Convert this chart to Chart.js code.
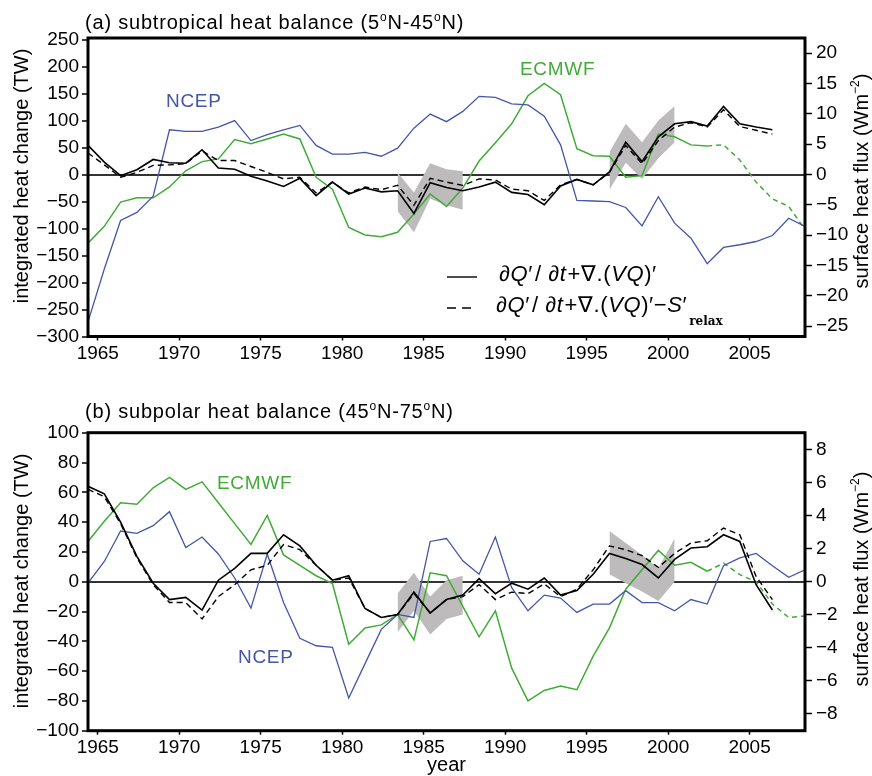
<!DOCTYPE html>
<html>
<head>
<meta charset="utf-8">
<script src="https://cdn.jsdelivr.net/npm/chart.js@4.4.0/dist/chart.umd.min.js"></script>
<style>
html, body { margin: 0; padding: 0; background: #fff; }
#chartA { position: absolute; left: 0; top: 0; }
#chartB { position: absolute; left: 0; top: 385px; }
</style>
</head>
<body>
<canvas id="chartA" width="872" height="385"></canvas>
<canvas id="chartB" width="872" height="391"></canvas>
<script>
var years = [1964, 1965, 1966, 1967, 1968, 1969, 1970, 1971, 1972, 1973,
             1974, 1975, 1976, 1977, 1978, 1979, 1980, 1981, 1982, 1983,
             1984, 1985, 1986, 1987, 1988, 1989, 1990, 1991, 1992, 1993,
             1994, 1995, 1996, 1997, 1998, 1999, 2000, 2001, 2002, 2003,
             2004, 2005, 2006, 2007, 2008];
var yearShift = 0.4;   // annual values sit a little right of the year tick
var dashFrom = 38;     // ECMWF curve is dashed from 2002 on

// (a) subtropical, TW
var balA  = [54, 23, -2, 9, 28, 22, 21, 46, 12, 10, -3, -12, -22, -7, -39, -14, -36, -25, -32, -30,
             -72, -15, -24, -30, -23, -14, -33, -37, -56, -21, -9, -19, 5, 60, 24, 70, 94, 98, 90, 126,
             94, 88, 83, null, null];
var balSA = [40, 18, -5, 4, 17, 18, 20, 44, 26, 26, 15, 4, -8, -5, -34, -14, -34, -23, -28, -20,
             -57, -7, -14, -20, -8, -10, -27, -30, -48, -19, -9, -19, 4, 54, 20, 63, 88, 96, 88, 120,
             89, 82, 75, null, null];
var ecmA  = [-127, -96, -51, -43, -43, -23, 7, 24, 29, 65, 57, 66, 75, 66, -5, -27, -98, -112, -115, -107,
             -73, -36, -59, -25, 25, 59, 94, 146, 169, 148, 48, 35, 34, -5, -2, 75, 70, 55, 53, 55,
             27, -14, -45, -59, -102];
var ncepA = [-273, -175, -85, -70, -40, 83, 80, 80, 88, 100, 63, 74, 83, 91, 54, 38, 38, 41, 34, 49,
             86, 112, 98, 117, 145, 143, 131, 129, 108, 55, -48, -49, -50, -61, -95, -41, -90, -118, -165, -135,
             -130, -124, -113, -81, -96];
var bandTopA = [null, null, null, null, null, null, null, null, null, null, null, null, null, null, null, null, null, null, null, 4,
                -33, 21, 10, 6, null, null, null, null, null, null, null, null, 42, 94, 60, 100, 127, null, null, null,
                null, null, null, null, null];
var bandBotA = [null, null, null, null, null, null, null, null, null, null, null, null, null, null, null, null, null, null, null, -68,
                -107, -45, -57, -65, null, null, null, null, null, null, null, null, -28, 22, -8, 30, 60, null, null, null,
                null, null, null, null, null];

// (b) subpolar, TW
var balB  = [64, 59, 40, 17, -1, -12, -10.5, -19, 1, 9, 19, 19, 31.5, 24, 11, 1, 4, -18, -24, -22,
             -7, -21, -12, -9, 2, -8, -1, -5, 2.5, -9, -6, 5, 19, 15.5, 11.5, 2.5, 15, 22.6, 23.5, 31.5,
             27, -2, -19, null, null];
var balSB = [62, 57, 39, 16, -2, -14, -14, -25, -10, -2, 8, 11, 25, 21.5, 11, 1, 2.5, -18, -24, -22,
             -8, -21, -12, -10, -2, -12, -7, -8, -1.5, -10, -5, 8, 24, 21.5, 17.5, 9.6, 19, 26, 27.5, 36,
             31.5, 3.5, -12, null, null];
var ecmB  = [27, 40.5, 53, 52, 63, 70, 62, 67, 53, 39, 25, 44.5, 18, 11, 4, -1.3, -42, -31, -29, -22,
             -39, 6, 4, -16.5, -37, -19.5, -58, -80, -73, -70, -72.5, -50, -31, -5, 8, 21, 11, 13, 7, 12.5,
             4.7, 0, -15, -24, -23];
var ncepB = [-1, 13.6, 34, 32.5, 37.6, 47, 23, 30, 18.6, 2.5, -17.7, 18.6, -14, -38, -43, -44, -78, -55, -32, -22,
             -24, 27, 29, 14, 5, 30, -4, -19.5, -9, -11, -20.6, -15, -15, -6, -14, -14, -19.5, -12, -15, 10.7,
             16, 19, 10.7, 3, 8];
var bandTopB = [null, null, null, null, null, null, null, null, null, null, null, null, null, null, null, null, null, null, null, -8,
                6, -10, 1, 4, null, null, null, null, null, null, null, null, 34, 26, 18, 9, 29, null, null, null,
                null, null, null, null, null];
var bandBotB = [null, null, null, null, null, null, null, null, null, null, null, null, null, null, null, null, null, null, null, -34,
                -19.5, -35.5, -25, -22, null, null, null, null, null, null, null, null, 5, -1, -6.5, -13, 0, null, null, null,
                null, null, null, null, null];

var yearTicks   = [1965, 1970, 1975, 1980, 1985, 1990, 1995, 2000, 2005];
var leftTicksA  = [250, 200, 150, 100, 50, 0, -50, -100, -150, -200, -250, -300];
var rightTicksA = [20, 15, 10, 5, 0, -5, -10, -15, -20, -25];
var leftTicksB  = [100, 80, 60, 40, 20, 0, -20, -40, -60, -80, -100];
var rightTicksB = [8, 6, 4, 2, 0, -2, -4, -6, -8];

var FONT = "'Liberation Sans', Arial, sans-serif";
var BLUE = '#4456a8', GREEN = '#42ab37', GREY = '#bdbbbb';

function pts(arr) {
    return arr.map(function(v, i) { return { x: years[i] + yearShift, y: v }; });
}

function fmt(v) {
    return v < 0 ? '\u2212' + Math.abs(v) : String(v);
}

function makeDatasets(bal, balS, ecm, ncep, bandTop, bandBot) {
    return [
        { data: pts(bal), borderColor: '#000', borderWidth: 1.6, order: 1 },
        { data: pts(balS), borderColor: '#000', borderWidth: 1.4, borderDash: [6, 4], order: 1 },
        { data: pts(ncep), borderColor: BLUE, borderWidth: 1.3, order: 2 },
        {
            data: pts(ecm), borderColor: GREEN, borderWidth: 1.5, order: 2,
            segment: {
                borderDash: function(c) { return c.p0DataIndex >= dashFrom ? [5, 4] : undefined; }
            }
        },
        { data: pts(bandTop), borderColor: 'rgba(0,0,0,0)', borderWidth: 0, backgroundColor: GREY, fill: '+1', order: 3 },
        { data: pts(bandBot), borderColor: 'rgba(0,0,0,0)', borderWidth: 0, order: 3 }
    ];
}

function tickList(list) {
    return function(scale) {
        scale.ticks = list.map(function(v) { return { value: v }; });
    };
}

function makeScales(o) {
    var tickFont = { family: FONT, size: 19 };
    return {
        x: {
            type: 'linear',
            min: 1964 + yearShift,
            max: 2008 + yearShift,
            afterBuildTicks: tickList(yearTicks),
            afterFit: function(s) { s.height = o.xHeight; },
            border: { display: false },
            grid: { drawOnChartArea: false, tickLength: 4, tickColor: '#000', tickWidth: 1.5 },
            ticks: {
                color: '#000', font: tickFont, padding: 2, maxRotation: 0, autoSkip: false,
                callback: function(v) { return String(v); }
            }
        },
        y: {
            position: 'left',
            min: o.lmin,
            max: o.lmax,
            afterBuildTicks: tickList(o.lticks),
            afterFit: function(s) { s.width = 88; },
            border: { display: false },
            grid: {
                color: function(c) { return c.tick && c.tick.value === 0 ? '#333' : 'rgba(0,0,0,0)'; },
                lineWidth: 2, tickLength: 6, tickColor: '#000', tickWidth: 1.5
            },
            ticks: { color: '#000', font: tickFont, padding: 3, callback: fmt }
        },
        y2: {
            position: 'right',
            min: o.rmin,
            max: o.rmax,
            afterBuildTicks: tickList(o.rticks),
            afterFit: function(s) { s.width = 67; },
            border: { display: false },
            grid: { drawOnChartArea: false, tickLength: 7, tickColor: '#000', tickWidth: 1.5 },
            ticks: { color: '#000', font: tickFont, padding: 4, callback: fmt }
        }
    };
}

// draws a run of text pieces, each with its own font and vertical offset
function drawParts(ctx, x, y, parts) {
    parts.forEach(function(p) {
        ctx.font = p.f;
        ctx.fillText(p.t, x, y + (p.dy || 0));
        x += ctx.measureText(p.t).width + (p.gap || 0);
    });
    return x;
}

function partsWidth(ctx, parts) {
    var w = 0;
    parts.forEach(function(p) {
        ctx.font = p.f;
        w += ctx.measureText(p.t).width + (p.gap || 0);
    });
    return w;
}

function spacing(ctx, px) {
    if ('letterSpacing' in ctx) ctx.letterSpacing = px;
}

function rotatedParts(ctx, x, cy, parts) {
    ctx.save();
    ctx.translate(x, cy);
    ctx.rotate(-Math.PI / 2);
    ctx.textAlign = 'left';
    drawParts(ctx, -partsWidth(ctx, parts) / 2, 0, parts);
    ctx.restore();
}

function label(ctx, text, x, y, color) {
    ctx.save();
    ctx.font = '19px ' + FONT;
    ctx.fillStyle = color;
    spacing(ctx, '0.7px');
    ctx.fillText(text, x, y);
    ctx.restore();
}

var N20 = '20px ' + FONT, S12 = '12px ' + FONT;

var decoPlugin = {
    id: 'deco',
    afterDatasetsDraw: function(chart, args, o) {
        var ctx = chart.ctx, ca = chart.chartArea;
        ctx.save();
        ctx.strokeStyle = '#000';
        ctx.lineWidth = 3;
        ctx.strokeRect(ca.left, ca.top, ca.right - ca.left, ca.bottom - ca.top);

        ctx.fillStyle = '#000';
        ctx.textAlign = 'left';
        ctx.textBaseline = 'alphabetic';
        ctx.save();
        spacing(ctx, '0.8px');
        drawParts(ctx, 85, o.titleY, o.title);
        ctx.restore();

        rotatedParts(ctx, 28, o.leftCy, [{ t: 'integrated heat change (TW)', f: N20 }]);
        rotatedParts(ctx, 868, o.rightCy, [
            { t: 'surface heat flux (Wm', f: N20 },
            { t: '\u22122', f: S12, dy: -9 },
            { t: ')', f: N20 }
        ]);

        o.labels.forEach(function(l) { label(ctx, l.t, l.x, l.y, l.c); });

        if (o.legend) {
            var N = '22px ' + FONT, I = 'italic 22px ' + FONT;
            var base = [
                { t: '\u2202', f: N }, { t: 'Q', f: I }, { t: '\u2032', f: N, gap: 2 },
                { t: '/ \u2202', f: N }, { t: 't', f: I, gap: 1 }, { t: '+\u2207.(', f: N },
                { t: 'VQ', f: I }, { t: ')\u2032', f: N }
            ];
            ctx.lineWidth = 1.4;
            ctx.beginPath(); ctx.moveTo(447, 277); ctx.lineTo(477, 277); ctx.stroke();
            ctx.setLineDash([9, 6]);
            ctx.beginPath(); ctx.moveTo(447, 308); ctx.lineTo(477, 308); ctx.stroke();
            ctx.setLineDash([]);
            ctx.save();
            spacing(ctx, '0.6px');
            drawParts(ctx, 499, 281, base);
            var x = drawParts(ctx, 496, 312, base.concat([
                { t: '\u2212', f: N }, { t: 'S', f: I }, { t: '\u2032', f: N }
            ]));
            ctx.restore();
            ctx.font = "bold 12px 'DejaVu Serif', serif";
            ctx.fillText('relax', x + 2, 325);
        }
        if (o.xTitle) {
            ctx.font = N20;
            ctx.textAlign = 'center';
            ctx.fillText('year', (ca.left + ca.right) / 2, o.xTitleY);
        }
        ctx.restore();
    }
};

function makeChart(id, datasets, scales, padTop, deco) {
    return new Chart(document.getElementById(id), {
        type: 'line',
        data: { datasets: datasets },
        options: {
            responsive: false,
            animation: false,
            layout: { padding: { top: padTop, left: 0, right: 0, bottom: 0 } },
            elements: { point: { radius: 0 }, line: { tension: 0 } },
            scales: scales,
            plugins: { legend: { display: false }, tooltip: { enabled: false }, deco: deco }
        },
        plugins: [decoPlugin]
    });
}

makeChart('chartA',
    makeDatasets(balA, balSA, ecmA, ncepA, bandTopA, bandBotA),
    makeScales({ xHeight: 48.5, lmin: -300, lmax: 253, lticks: leftTicksA, rmin: -26.7, rmax: 22.5, rticks: rightTicksA }),
    38,
    {
        titleY: 29,
        title: [
            { t: '(a) subtropical heat balance (5', f: N20 }, { t: 'o', f: S12, dy: -8 },
            { t: 'N-45', f: N20 }, { t: 'o', f: S12, dy: -8 }, { t: 'N)', f: N20 }
        ],
        leftCy: 176, rightCy: 181,
        labels: [
            { t: 'NCEP', x: 166, y: 107, c: BLUE },
            { t: 'ECMWF', x: 520, y: 75, c: GREEN }
        ],
        legend: true
    });

makeChart('chartB',
    makeDatasets(balB, balSB, ecmB, ncepB, bandTopB, bandBotB),
    makeScales({ xHeight: 45.3, lmin: -100, lmax: 100, lticks: leftTicksB, rmin: -9.05, rmax: 9.05, rticks: rightTicksB }),
    47.7,
    {
        titleY: 32.5,
        title: [
            { t: '(b) subpolar heat balance (45', f: N20 }, { t: 'o', f: S12, dy: -8 },
            { t: 'N-75', f: N20 }, { t: 'o', f: S12, dy: -8 }, { t: 'N)', f: N20 }
        ],
        leftCy: 196, rightCy: 194,
        labels: [
            { t: 'ECMWF', x: 217, y: 104, c: GREEN },
            { t: 'NCEP', x: 238, y: 278, c: BLUE }
        ],
        legend: false,
        xTitle: true,
        xTitleY: 386
    });
</script>
</body>
</html>
